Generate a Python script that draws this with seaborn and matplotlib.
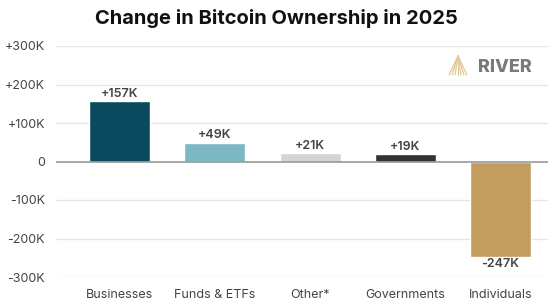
import matplotlib
matplotlib.use("Agg")
import matplotlib.pyplot as plt
import seaborn as sns
import pandas as pd
import numpy as np

categories = ["Businesses", "Funds & ETFs", "Other*", "Governments", "Individuals"]
values_k = [157, 49, 21, 19, -247]
labels = ["+157K", "+49K", "+21K", "+19K", "-247K"]
colors = ["#0B4A5E", "#7DB8C7", "#D4D4D4", "#333333", "#C29D5E"]
yticks = [-300, -200, -100, 0, 100, 200, 300]
yticklabels = ["-300K", "-200K", "-100K", "0", "+100K", "+200K", "+300K"]

sns.set_theme(style="white")
plt.rcParams["font.family"] = ["Inter", "DejaVu Sans"]

df = pd.DataFrame({"cat": categories, "val": values_k})

fig = plt.figure(figsize=(5.53, 3.0), dpi=100)
ax = fig.add_axes([56/553, 1 - 277/300, (548-56)/553, (277-46)/300])

sns.barplot(data=df, x="cat", y="val", hue="cat", palette=colors, legend=False,
            width=0.64, ax=ax, saturation=1)

ax.set_ylim(-300, 300)
ax.set_xlim(-0.67, 4.5)
ax.set_yticks(yticks)
ax.set_yticklabels(yticklabels)
ax.set_xlabel("")
ax.set_ylabel("")
for y in yticks:
    if y != 0:
        ax.axhline(y, color="#E6E6E6", lw=1, zorder=0)
ax.axhline(0, color="#999999", lw=1.2, zorder=3)
for s in ax.spines.values():
    s.set_visible(False)
ax.tick_params(axis="both", length=0, labelsize=9, colors="#444444")
ax.tick_params(axis="x", pad=9)
ax.tick_params(axis="y", pad=8)

for i, (v, lab) in enumerate(zip(values_k, labels)):
    if v >= 0:
        ax.text(i, v + 3, lab, ha="center", va="bottom", fontsize=9, fontweight="semibold", color="#444444")
    else:
        ax.text(i, v - 3, lab, ha="center", va="top", fontsize=9, fontweight="semibold", color="#444444")

fig.text(0.5, 0.94, "Change in Bitcoin Ownership in 2025", ha="center", va="center",
         fontsize=14.5, fontweight="bold", color="#111111")

# RIVER logo
fig.text(505/553, 1 - 67/300, "RIVER", ha="center", va="center", fontsize=13,
         fontweight="heavy", color="#7A7A7A")
apex = (458/553, 1 - 56/300)
for k in np.linspace(-1, 1, 7):
    fig.add_artist(plt.Line2D([apex[0], apex[0] + k * 9/553], [apex[1], 1 - 75/300],
                              color="#E2C89A", lw=0.9, transform=fig.transFigure))

fig.savefig("out.png", dpi=100)
